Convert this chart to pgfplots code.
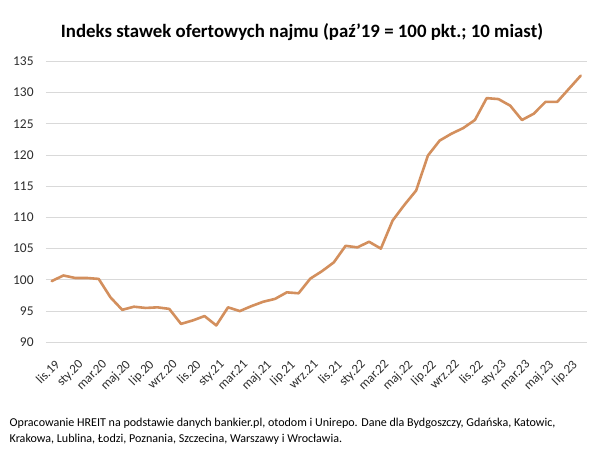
\documentclass[border=0pt]{standalone}
\usepackage{fontspec}
\setmainfont{Carlito}
\usepackage{pgfplots}
\pgfplotsset{compat=1.18}
\usepackage{pgfplotstable}

\definecolor{lineor}{RGB}{211,143,93}
\definecolor{gridg}{RGB}{217,217,217}
\definecolor{tickc}{RGB}{45,45,45}

% Monthly index, Nov 2019 (0) to Aug 2023 (45)
\pgfplotstableread{
idx val
0  99.8
1  100.7
2  100.3
3  100.3
4  100.15
5  97.2
6  95.2
7  95.7
8  95.5
9  95.6
10 95.35
11 92.95
12 93.5
13 94.2
14 92.7
15 95.6
16 95.0
17 95.8
18 96.5
19 96.95
20 98.0
21 97.85
22 100.2
23 101.4
24 102.8
25 105.45
26 105.2
27 106.1
28 105.0
29 109.5
30 112.0
31 114.3
32 119.9
33 122.3
34 123.4
35 124.3
36 125.6
37 129.1
38 128.95
39 127.9
40 125.6
41 126.6
42 128.5
43 128.5
44 130.6
45 132.7
}\indeks

\begin{document}
\begin{tikzpicture}
\path[use as bounding box] (0,0) rectangle (605bp,450bp);
\begin{axis}[
  at={(45.8bp,107.7bp)}, anchor=south west,
  scale only axis, width=540.8bp, height=281bp,
  xmin=-0.5, xmax=45.5, ymin=90, ymax=135,
  ytick={90,95,...,135},
  xtick={0,2,...,44},
  xticklabels={lis.19,sty.20,mar.20,maj.20,lip.20,wrz.20,lis.20,sty.21,mar.21,maj.21,lip.21,wrz.21,lis.21,sty.22,mar.22,maj.22,lip.22,wrz.22,lis.22,sty.23,mar.23,maj.23,lip.23},
  axis line style={draw=none},
  ymajorgrids, grid style={gridg, line width=0.9bp},
  major tick length=0pt,
  tick label style={text=tickc},
  yticklabel style={font=\fontsize{13.5}{15}\selectfont, anchor=east, inner sep=0pt, xshift=-12bp},
  xticklabel style={font=\fontsize{13}{15}\selectfont, anchor=north east, inner sep=0pt, xshift=2.5bp, yshift=-16.5bp, rotate=45},
  /pgf/number format/assume math mode=true,
  clip=false,
]
\addplot[lineor, line width=2.6bp, line join=round, line cap=round] table[x=idx, y=val] {\indeks};
\end{axis}
\node[font=\bfseries\fontsize{18.9}{21}\selectfont, anchor=base] at (302bp,412bp) {Indeks stawek ofertowych najmu (paź'19 = 100 pkt.; 10 miast)};
\node[font=\fontsize{12.1}{14}\selectfont, anchor=base west, inner sep=0pt] at (9.5bp,24bp) {Opracowanie HREIT na podstawie danych bankier.pl, otodom i Unirepo. Dane dla Bydgoszczy, Gdańska, Katowic,};
\node[font=\fontsize{12.1}{14}\selectfont, anchor=base west, inner sep=0pt] at (9.5bp,8bp) {Krakowa, Lublina, Łodzi, Poznania, Szczecina, Warszawy i Wrocławia.};
\end{tikzpicture}
\end{document}
